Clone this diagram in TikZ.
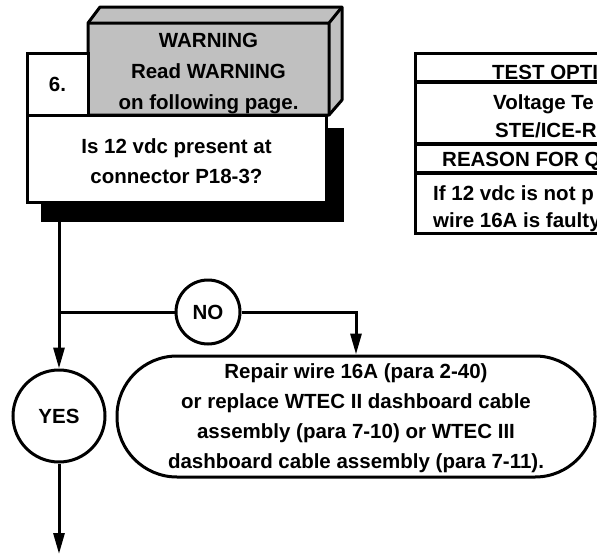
\documentclass[tikz,border=0pt]{standalone}
\usepackage{fontspec}
\setmainfont{Liberation Sans}
\usetikzlibrary{arrows.meta,positioning}
\definecolor{warngray}{RGB}{192,192,192}

\begin{document}
\begin{tikzpicture}[x=1pt,y=-1pt,
    font=\bfseries\fontsize{20.5}{30}\selectfont,
    box/.style={draw, line width=3pt, fill=white, inner sep=0pt},
    link/.style={line width=3pt},
    arr/.style={line width=3pt, -{Triangle[length=21pt,width=11pt]}},
    answer/.style={circle, draw, line width=3pt, fill=white, inner sep=0pt}]
    \useasboundingbox (0,0) rectangle (597,554);

    % Parameters
    \def\depthx{13} % Depth of the warning box
    \def\depthy{16}
    \def\tabright{640} % Table runs off the page

    % Shadow under the question box
    \fill (41,128) rectangle (344,222);

    % Warning box with its top and side
    \filldraw[fill=warngray, line width=3pt, line join=round]
        (88,23) -- ++(\depthx-1,-\depthy) -- (342,7) -- (342,100) -- (329,115) -- (88,115) -- cycle;
    \draw[line width=3pt, line join=round] (88,23) -- (329,23) -- (342,7) (329,23) -- (329,115);
    \node[font=\bfseries\fontsize{20.5}{31}\selectfont, align=center] (warn) at (208.5,74) {WARNING\\Read WARNING\\on following page.};

    % Step number and question
    \node[box, minimum width=61pt, minimum height=62pt] (num) at (57.5,84) {6.};
    \node[box, minimum width=299pt, minimum height=87pt, align=center, text height=49pt, text depth=0pt]
        (quest) at (176.5,158.5) {Is 12 vdc present at\\connector P18-3?};

    % Test options table
    \draw[line width=3pt] (415,53) rectangle (\tabright,233);
    \foreach \y in {82,144,173} {
        \draw[line width=4.5pt] (415,\y) -- (\tabright,\y);
    }
    \node[anchor=base west, inner sep=0pt] (opt) at (492,79) {TEST OPTI};
    \node[anchor=base west, inner sep=0pt] (volt) at (493,109) {Voltage Te};
    \node[anchor=base west, inner sep=0pt] (ste) at (495,137) {STE/ICE-R};
    \node[anchor=base west, inner sep=0pt] (reason) at (442,166) {REASON FOR Q};
    \node[anchor=base west, inner sep=0pt] (why1) at (433,200) {If 12 vdc is not p};
    \node[anchor=base west, inner sep=0pt] (why2) at (433,227) {wire 16A is faulty};

    % Answers and repair
    \node[answer, minimum size=64pt] (no) at (208,312) {NO};
    \node[answer, minimum size=92pt] (yes) at (59,416) {YES};
    \node[draw, line width=3pt, rounded corners=60pt, minimum width=478pt, minimum height=121pt, inner sep=0pt,
          align=center, text depth=0pt]
        (repair) at (356,416.5) {Repair wire 16A (para 2-40)\\or replace WTEC II dashboard cable\\assembly (para 7-10) or WTEC III\\dashboard cable assembly (para 7-11).};

    % Connectors
    \coordinate (qout) at (59,222);
    \coordinate (split) at (59,312);
    \coordinate (exit) at (59,554);
    \draw[arr] (qout) -- (yes);
    \draw[link] (split) -- (no);
    \draw[arr] (no) -| (repair);
    \draw[arr] (yes) -- (exit);
\end{tikzpicture}
\end{document}
